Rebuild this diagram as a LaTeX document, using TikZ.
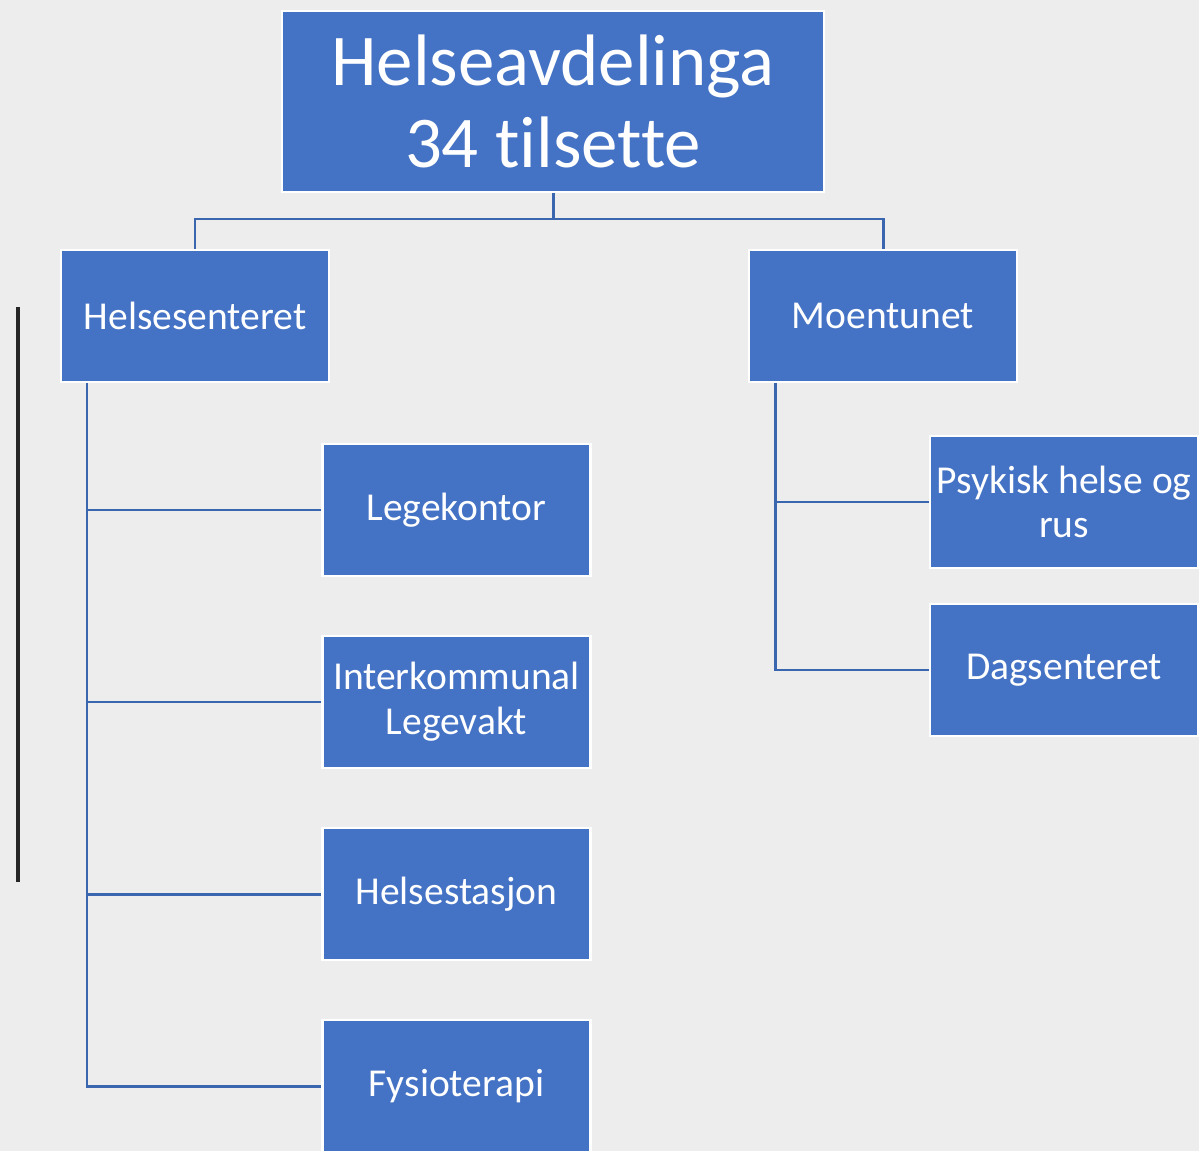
\documentclass[tikz,border=0pt]{standalone}
\usepackage{fontspec}
\setmainfont{Carlito}[Ligatures=NoCommon]
\usetikzlibrary{positioning}
\definecolor{boxblue}{HTML}{4472C4}
\definecolor{lineblue}{HTML}{3A66B0}
\definecolor{paper}{HTML}{EDEDED}
\tikzset{
  unit/.style = {draw=white, line width=1.3pt, fill=boxblue, text=white, align=center,
                 minimum width=5.36cm, minimum height=2.64cm, inner sep=0pt,
                 font=\fontsize{22.5}{25.5}\selectfont},
  head/.style = {unit, minimum width=10.84cm, minimum height=3.62cm,
                 font=\fontsize{41.5}{46.3}\selectfont},
  link/.style = {draw=lineblue, line width=1.7pt}
}
\begin{document}
\begin{tikzpicture}[x=0.02cm, y=-0.02cm]
  % page and background
  \useasboundingbox (0,0) rectangle (1199,1151);
  \clip (0,0) rectangle (1199,1151);
  \fill[paper] (0,0) rectangle (1199,1151);
  % top box
  \node[head] (avd) at (553,101.5) {Helseavdelinga\\34 tilsette};
  % second level
  \node[unit] (hs) at (195,316) {Helsesenteret};
  \node[unit] (mt) at (883,316) {Moentunet};
  % under Helsesenteret
  \node[unit] (lk) at (456.5,510) {Legekontor};
  \node[unit] (lv) at (456.5,702) {Interkommunal\\Legevakt};
  \node[unit] (hst) at (456.5,894) {Helsestasjon};
  \node[unit] (fys) at (456.5,1086) {Fysioterapi};
  % under Moentunet
  \node[unit] (psy) at (1064,502) {Psykisk helse og\\rus};
  \node[unit] (dag) at (1064,670) {Dagsenteret};
  \coordinate (bus) at (553,219);
  \coordinate (hsleg) at (87,383);
  \coordinate (mtleg) at (775,383);
  % lines from the top
  \draw[link] (avd.south) -- (bus);
  \draw[link] (hs.north) |- (bus) -| (mt.north);
  % lines under Helsesenteret
  \draw[link] (hsleg) |- (fys.west);
  \draw[link] (hsleg |- lk.west) -- (lk.west);
  \draw[link] (hsleg |- lv.west) -- (lv.west);
  \draw[link] (hsleg |- hst.west) -- (hst.west);
  % lines under Moentunet
  \draw[link] (mtleg) |- (dag.west);
  \draw[link] (mtleg |- psy.west) -- (psy.west);
  % black bar at the left
  \draw[line width=2.2pt, black!85] (18,307) -- (18,882);
\end{tikzpicture}
\end{document}
